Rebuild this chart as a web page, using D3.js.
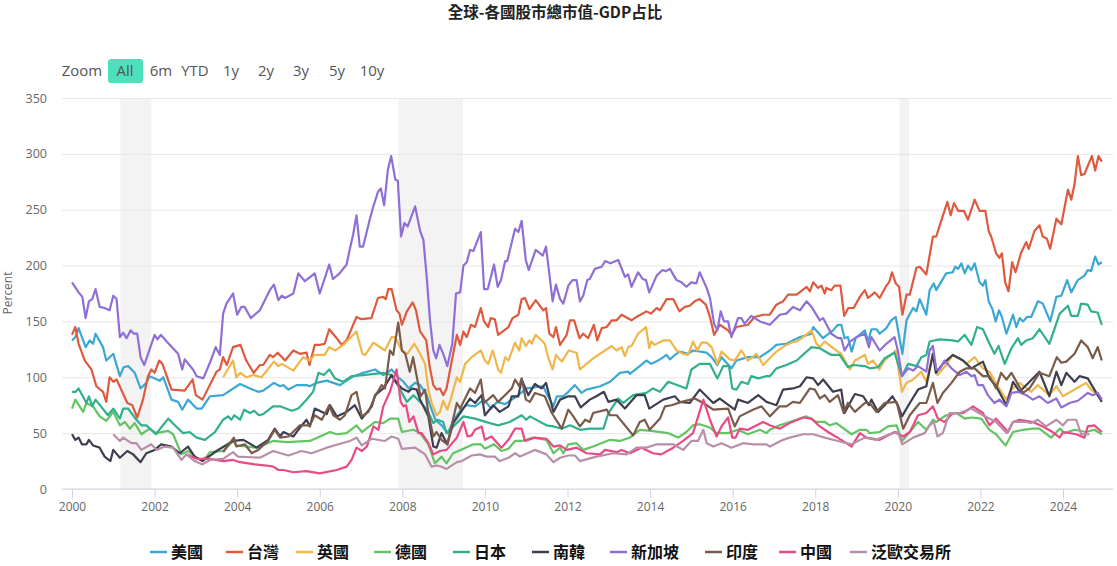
<!DOCTYPE html>
<html lang="zh-Hant">
<head>
    <meta charset="UTF-8"/>
    <title>全球-各國股市總市值-GDP占比</title>
    <script src="https://cdnjs.cloudflare.com/ajax/libs/d3/7.8.5/d3.min.js"></script>
    <style>
        body { margin: 0; background: #fff; }
        text { font-family: "Open Sans", "Noto Sans CJK TC", sans-serif; }
        .axis text { fill: #666; font-size: 12px; }
        .range text { fill: #555; font-size: 15px; text-anchor: middle; }
        .legend text { fill: #111; font-size: 16px; font-weight: bold; font-family: "Noto Sans CJK TC", sans-serif; }
    </style>
</head>
<body>
<div id="chart"></div>
<script>
    // Values: [year, percent]
    const usa = [[2000,133],[2000.08,136],[2000.16,144],[2000.33,127],[2000.43,133],[2000.51,130],[2000.57,139],[2000.75,127],[2000.83,115],[2001,121],[2001.16,101],[2001.25,109],[2001.36,110],[2001.52,104],[2001.66,90],[2001.8,95],[2001.88,101],[2002.13,97],[2002.21,100],[2002.41,80],[2002.57,78],[2002.67,71],[2002.81,80],[2003.02,72],[2003.14,72],[2003.34,83],[2003.66,84],[2004.07,94],[2004.31,90],[2004.51,87],[2004.63,88],[2004.89,95],[2005.04,92],[2005.12,93],[2005.24,89],[2005.44,93],[2005.68,93],[2005.76,92],[2005.92,95],[2006.17,97],[2006.49,93],[2006.77,100],[2007.05,104],[2007.34,107],[2007.54,102],[2007.74,107],[2007.9,100],[2008.03,96],[2008.15,90],[2008.31,95],[2008.43,93],[2008.58,85],[2008.67,75],[2008.8,62],[2008.95,57],[2009.1,50],[2009.25,62],[2009.4,70],[2009.55,75],[2009.76,74],[2009.98,80],[2010.15,72],[2010.3,78],[2010.49,76],[2010.77,83],[2011.01,90],[2011.41,92],[2011.53,83],[2011.66,74],[2011.74,83],[2011.9,83],[2012.02,87],[2012.18,93],[2012.34,86],[2012.46,89],[2012.79,92],[2013.03,96],[2013.27,104],[2013.47,105],[2013.51,103],[2013.75,110],[2013.91,115],[2014.03,112],[2014.24,116],[2014.4,120],[2014.48,116],[2014.6,120],[2014.72,123],[2014.92,121],[2015.04,124],[2015.37,122],[2015.49,118],[2015.63,111],[2015.73,118],[2015.97,108],[2016.09,115],[2016.37,118],[2016.66,118],[2016.9,124],[2017.06,129],[2017.3,130],[2017.63,136],[2017.91,139],[2017.95,145],[2018.19,135],[2018.43,142],[2018.55,147],[2018.63,147],[2018.71,135],[2018.79,136],[2018.88,123],[2018.98,135],[2019.2,142],[2019.28,132],[2019.36,143],[2019.48,143],[2019.56,139],[2019.72,144],[2019.84,151],[2019.95,154],[2020.02,139],[2020.11,121],[2020.21,151],[2020.37,162],[2020.45,159],[2020.53,170],[2020.69,156],[2020.77,178],[2020.87,184],[2020.93,178],[2021.17,193],[2021.33,194],[2021.39,199],[2021.46,197],[2021.54,202],[2021.62,193],[2021.7,200],[2021.78,196],[2021.86,202],[2021.98,185],[2022.06,182],[2022.12,187],[2022.2,168],[2022.29,161],[2022.37,150],[2022.45,160],[2022.52,154],[2022.63,139],[2022.79,156],[2022.87,145],[2022.95,153],[2023.03,150],[2023.13,154],[2023.23,154],[2023.39,168],[2023.51,166],[2023.69,150],[2023.84,172],[2023.96,173],[2024.1,187],[2024.2,176],[2024.36,187],[2024.52,191],[2024.6,196],[2024.68,195],[2024.78,208],[2024.86,201],[2024.94,203]];
    const taiwan = [[2000,138],[2000.08,145],[2000.16,130],[2000.31,115],[2000.47,107],[2000.59,92],[2000.75,87],[2000.83,78],[2000.91,100],[2001,96],[2001.08,98],[2001.34,77],[2001.46,75],[2001.58,64],[2001.72,80],[2001.84,101],[2001.92,107],[2002,104],[2002.11,115],[2002.19,112],[2002.41,89],[2002.73,88],[2002.92,98],[2003,84],[2003.16,80],[2003.5,105],[2003.58,107],[2003.66,118],[2003.75,111],[2003.9,127],[2004.08,129],[2004.22,115],[2004.4,104],[2004.55,111],[2004.63,111],[2004.79,120],[2004.87,118],[2004.98,122],[2005.16,115],[2005.36,124],[2005.52,121],[2005.68,122],[2005.75,111],[2005.88,129],[2006,129],[2006.12,130],[2006.23,143],[2006.41,135],[2006.53,129],[2006.65,133],[2006.89,154],[2007.01,152],[2007.25,153],[2007.41,171],[2007.54,172],[2007.6,170],[2007.66,179],[2007.74,179],[2007.86,160],[2007.93,157],[2007.99,147],[2008.11,159],[2008.25,167],[2008.33,160],[2008.43,141],[2008.58,133],[2008.66,110],[2008.75,93],[2008.83,89],[2008.91,90],[2008.99,84],[2009.07,90],[2009.2,115],[2009.32,138],[2009.4,129],[2009.48,141],[2009.56,136],[2009.66,147],[2009.76,145],[2009.9,162],[2009.98,150],[2010.08,145],[2010.14,153],[2010.24,152],[2010.32,138],[2010.57,145],[2010.67,153],[2010.81,156],[2010.89,170],[2010.97,171],[2011.08,161],[2011.23,169],[2011.41,160],[2011.48,162],[2011.56,139],[2011.66,136],[2011.72,145],[2011.82,129],[2011.98,138],[2012.06,151],[2012.16,151],[2012.29,135],[2012.38,139],[2012.5,135],[2012.64,147],[2012.72,133],[2012.83,144],[2012.95,145],[2013.07,151],[2013.19,151],[2013.31,156],[2013.55,151],[2013.67,154],[2013.91,159],[2014.02,157],[2014.16,162],[2014.24,160],[2014.4,170],[2014.56,170],[2014.71,159],[2014.84,163],[2014.96,164],[2015.08,168],[2015.2,170],[2015.35,165],[2015.45,154],[2015.55,138],[2015.69,147],[2015.89,142],[2015.97,138],[2016.09,145],[2016.37,147],[2016.53,154],[2016.74,156],[2016.9,156],[2017.06,165],[2017.22,168],[2017.34,174],[2017.55,174],[2017.79,181],[2017.87,177],[2017.95,185],[2018.07,180],[2018.15,182],[2018.23,175],[2018.27,180],[2018.39,178],[2018.47,182],[2018.61,182],[2018.7,155],[2018.8,162],[2018.93,162],[2019.08,172],[2019.2,178],[2019.28,171],[2019.44,176],[2019.56,171],[2019.72,182],[2019.79,185],[2019.86,194],[2019.95,184],[2020.03,181],[2020.11,156],[2020.21,174],[2020.29,174],[2020.45,198],[2020.53,199],[2020.69,192],[2020.85,226],[2020.93,226],[2021.05,240],[2021.2,257],[2021.28,245],[2021.36,256],[2021.46,249],[2021.6,249],[2021.7,241],[2021.86,259],[2021.98,249],[2022.12,249],[2022.2,231],[2022.26,226],[2022.38,211],[2022.46,207],[2022.52,211],[2022.6,185],[2022.68,177],[2022.77,203],[2022.85,194],[2022.99,212],[2023.11,221],[2023.17,215],[2023.31,231],[2023.43,236],[2023.51,226],[2023.61,224],[2023.69,215],[2023.84,242],[2023.96,237],[2024.12,268],[2024.2,259],[2024.28,273],[2024.36,298],[2024.44,281],[2024.52,282],[2024.7,298],[2024.78,285],[2024.86,298],[2024.94,293]];
    const uk = [[2003.66,100],[2003.9,115],[2003.98,100],[2004.08,104],[2004.22,100],[2004.39,102],[2004.59,100],[2004.89,114],[2005,110],[2005.08,112],[2005.36,106],[2005.6,118],[2005.75,115],[2005.88,120],[2006.12,120],[2006.23,127],[2006.37,124],[2006.57,129],[2006.89,141],[2007.03,121],[2007.1,120],[2007.3,131],[2007.58,124],[2007.74,136],[2007.82,136],[2007.99,124],[2008.12,121],[2008.29,130],[2008.43,121],[2008.55,112],[2008.63,89],[2008.71,77],[2008.83,66],[2008.91,69],[2008.99,79],[2009.09,71],[2009.17,80],[2009.32,100],[2009.4,96],[2009.52,112],[2009.68,118],[2009.9,124],[2010,115],[2010.08,112],[2010.19,124],[2010.32,107],[2010.39,104],[2010.49,118],[2010.57,115],[2010.73,131],[2010.83,124],[2010.89,135],[2010.99,128],[2011.08,133],[2011.13,130],[2011.23,138],[2011.45,130],[2011.53,118],[2011.64,107],[2011.72,120],[2011.86,114],[2012.03,124],[2012.22,122],[2012.3,107],[2012.62,117],[2013.07,128],[2013.19,124],[2013.31,127],[2013.39,119],[2013.47,127],[2013.55,128],[2013.71,139],[2013.9,145],[2013.98,126],[2014.03,132],[2014.11,129],[2014.32,133],[2014.48,133],[2014.64,124],[2014.8,121],[2014.92,120],[2015.04,132],[2015.14,124],[2015.25,131],[2015.37,131],[2015.49,127],[2015.63,112],[2015.73,123],[2015.93,116],[2016.05,115],[2016.21,124],[2016.37,115],[2016.58,121],[2016.74,111],[2016.9,117],[2017.06,123],[2017.3,129],[2017.42,131],[2017.55,132],[2017.71,136],[2017.91,142],[2018.03,130],[2018.11,127],[2018.23,132],[2018.51,124],[2018.63,121],[2018.84,107],[2018.96,115],[2019.2,120],[2019.28,112],[2019.4,115],[2019.55,107],[2019.68,115],[2019.95,124],[2020.1,87],[2020.21,95],[2020.37,98],[2020.57,105],[2020.69,96],[2020.85,121],[2020.96,102],[2021.17,111],[2021.33,120],[2021.5,117],[2021.66,112],[2021.86,118],[2022.06,108],[2022.22,105],[2022.42,92],[2022.63,80],[2022.75,89],[2022.95,95],[2023.23,87],[2023.39,93],[2023.67,84],[2023.84,92],[2024,83],[2024.32,90],[2024.56,95],[2024.68,89],[2024.84,84],[2024.94,81]];
    const germany = [[2000,72],[2000.08,80],[2000.27,69],[2000.35,77],[2000.51,74],[2000.67,65],[2000.83,61],[2001,69],[2001.16,57],[2001.28,60],[2001.4,54],[2001.52,59],[2001.68,49],[2001.88,54],[2002.04,50],[2002.33,52],[2002.45,49],[2002.65,31],[2002.81,34],[2003.02,28],[2003.14,26],[2003.26,29],[2003.34,33],[2003.66,34],[2003.9,43],[2003.98,39],[2004.47,37],[2004.87,43],[2005.2,42],[2005.76,43],[2006.25,51],[2006.41,49],[2006.65,50],[2006.89,57],[2007.02,51],[2007.34,60],[2007.54,59],[2007.7,63],[2007.9,63],[2007.99,51],[2008.27,53],[2008.43,50],[2008.63,40],[2008.79,23],[2008.95,29],[2009.07,23],[2009.23,32],[2009.48,36],[2009.72,40],[2009.9,40],[2010,36],[2010.22,40],[2010.4,34],[2010.57,36],[2010.73,43],[2010.89,43],[2011.17,46],[2011.49,44],[2011.66,32],[2011.82,37],[2011.9,32],[2012.02,40],[2012.22,41],[2012.38,35],[2012.62,38],[2013.03,44],[2013.27,43],[2013.51,46],[2013.75,53],[2014.03,52],[2014.44,50],[2014.68,46],[2014.88,51],[2015.04,57],[2015.2,58],[2015.45,55],[2015.61,50],[2015.89,50],[2016.13,53],[2016.37,49],[2016.66,53],[2016.82,50],[2016.9,53],[2017.14,57],[2017.38,60],[2017.79,65],[2018.03,60],[2018.23,60],[2018.35,57],[2018.51,59],[2018.88,49],[2019.08,53],[2019.24,53],[2019.32,50],[2019.56,51],[2019.76,56],[2019.97,57],[2020.1,43],[2020.29,51],[2020.49,60],[2020.69,53],[2020.85,62],[2020.93,60],[2021.17,66],[2021.42,68],[2021.62,63],[2021.78,64],[2022.02,63],[2022.22,53],[2022.38,49],[2022.61,39],[2022.79,51],[2023.03,53],[2023.27,54],[2023.43,54],[2023.71,46],[2023.92,54],[2024.04,50],[2024.28,53],[2024.56,51],[2024.76,53],[2024.94,49]];
    const japan = [[2000,87],[2000.09,87],[2000.16,90],[2000.35,77],[2000.41,83],[2000.49,74],[2000.57,80],[2000.87,66],[2001,72],[2001.16,63],[2001.24,72],[2001.36,72],[2001.56,62],[2001.68,57],[2001.8,57],[2002.03,49],[2002.33,63],[2002.49,57],[2002.69,50],[2002.85,51],[2003.02,46],[2003.22,44],[2003.46,51],[2003.66,62],[2003.78,65],[2003.86,62],[2003.93,66],[2004.07,62],[2004.17,71],[2004.31,68],[2004.41,70],[2004.53,66],[2004.63,67],[2004.87,74],[2005.04,74],[2005.32,70],[2005.48,72],[2005.68,80],[2005.84,87],[2005.97,104],[2006.1,102],[2006.23,107],[2006.37,99],[2006.57,96],[2006.77,101],[2007.05,102],[2007.54,104],[2007.74,102],[2007.86,95],[2007.99,86],[2008.11,78],[2008.27,84],[2008.43,78],[2008.6,71],[2008.75,59],[2008.85,62],[2008.99,60],[2009.07,50],[2009.48,65],[2009.76,63],[2010.12,59],[2010.32,57],[2010.6,60],[2010.89,66],[2011,62],[2011.09,65],[2011.49,57],[2011.66,56],[2011.86,54],[2012.06,57],[2012.3,53],[2012.54,54],[2012.87,54],[2012.99,68],[2013.23,81],[2013.35,77],[2013.59,84],[2013.91,86],[2014.07,90],[2014.24,87],[2014.44,96],[2014.88,90],[2015,107],[2015.2,112],[2015.45,112],[2015.63,99],[2015.77,110],[2015.91,110],[2015.99,90],[2016.09,89],[2016.21,96],[2016.37,94],[2016.45,101],[2016.62,99],[2016.82,101],[2016.9,101],[2017.06,108],[2017.3,111],[2017.55,115],[2017.91,127],[2018.11,126],[2018.39,120],[2018.59,120],[2018.79,109],[2018.92,111],[2019.2,110],[2019.32,108],[2019.52,109],[2019.68,117],[2019.92,122],[2020.1,101],[2020.25,112],[2020.45,110],[2020.57,118],[2020.69,120],[2020.77,132],[2021.01,134],[2021.33,133],[2021.46,132],[2021.62,138],[2021.78,129],[2021.92,145],[2022.06,143],[2022.22,130],[2022.34,121],[2022.44,128],[2022.59,112],[2022.75,126],[2022.91,135],[2022.99,129],[2023.11,133],[2023.27,135],[2023.43,143],[2023.67,130],[2023.92,157],[2024.12,164],[2024.2,155],[2024.36,155],[2024.44,166],[2024.6,165],[2024.68,159],[2024.84,158],[2024.94,147]];
    const korea = [[2000,49],[2000.08,44],[2000.16,46],[2000.24,40],[2000.35,40],[2000.41,44],[2000.51,39],[2000.67,37],[2000.79,29],[2000.93,25],[2001,35],[2001.16,28],[2001.34,34],[2001.48,31],[2001.66,24],[2001.8,32],[2002,35],[2002.16,40],[2002.41,38],[2002.61,32],[2002.81,38],[2002.97,29],[2003.16,25],[2003.5,34],[2003.9,43],[2004.15,44],[2004.47,37],[2004.75,44],[2004.91,54],[2005.04,47],[2005.12,51],[2005.36,47],[2005.48,53],[2005.68,62],[2005.76,56],[2005.88,72],[2006.17,67],[2006.25,75],[2006.41,65],[2006.65,69],[2006.85,75],[2007.02,63],[2007.26,74],[2007.34,84],[2007.54,90],[2007.74,102],[2007.86,95],[2007.99,90],[2008.15,87],[2008.23,90],[2008.35,89],[2008.43,80],[2008.63,65],[2008.75,38],[2008.83,37],[2008.95,50],[2009.09,40],[2009.23,59],[2009.4,68],[2009.64,81],[2009.76,77],[2009.92,84],[2010,66],[2010.2,75],[2010.36,69],[2010.57,74],[2010.65,83],[2010.81,83],[2010.89,98],[2011.05,84],[2011.21,94],[2011.37,90],[2011.48,95],[2011.66,69],[2011.82,80],[2012.02,83],[2012.18,83],[2012.32,73],[2012.54,80],[2012.7,83],[2012.88,87],[2012.99,78],[2013.19,80],[2013.39,72],[2013.67,84],[2013.87,84],[2013.98,72],[2014.32,80],[2014.6,83],[2014.72,78],[2014.96,77],[2015.2,89],[2015.53,77],[2015.69,81],[2016.05,71],[2016.13,80],[2016.37,77],[2016.62,84],[2016.82,78],[2016.9,77],[2017.06,75],[2017.22,89],[2017.46,90],[2017.63,92],[2017.79,100],[2017.95,99],[2018.07,93],[2018.19,98],[2018.43,87],[2018.63,89],[2018.71,68],[2018.84,77],[2018.96,85],[2019.16,83],[2019.3,75],[2019.36,80],[2019.52,69],[2019.68,75],[2019.87,83],[2020,75],[2020.1,65],[2020.29,77],[2020.49,89],[2020.69,92],[2020.85,121],[2020.92,104],[2021.09,112],[2021.33,120],[2021.58,115],[2021.78,108],[2022.06,114],[2022.22,99],[2022.38,92],[2022.63,75],[2022.79,96],[2022.95,87],[2023.19,96],[2023.43,105],[2023.67,83],[2023.84,105],[2023.96,93],[2024.08,104],[2024.28,96],[2024.4,101],[2024.6,99],[2024.76,89],[2024.94,78]];
    const singapore = [[2000,185],[2000.16,176],[2000.25,172],[2000.33,153],[2000.41,168],[2000.49,170],[2000.57,179],[2000.67,163],[2000.79,162],[2000.91,160],[2001,173],[2001.08,170],[2001.16,136],[2001.24,140],[2001.32,135],[2001.42,142],[2001.5,139],[2001.58,139],[2001.66,118],[2001.75,111],[2001.88,125],[2002,138],[2002.07,134],[2002.15,138],[2002.37,129],[2002.57,121],[2002.67,107],[2002.73,116],[2002.93,107],[2003.02,101],[2003.18,99],[2003.34,113],[2003.48,127],[2003.58,120],[2003.66,157],[2003.74,166],[2003.9,175],[2004,156],[2004.1,163],[2004.18,163],[2004.33,153],[2004.55,160],[2004.67,169],[2004.79,178],[2004.89,183],[2005,169],[2005.08,173],[2005.16,171],[2005.36,175],[2005.48,193],[2005.64,186],[2005.88,193],[2006,175],[2006.23,201],[2006.32,188],[2006.48,193],[2006.65,201],[2006.73,215],[2006.81,228],[2006.89,245],[2006.97,217],[2007.05,217],[2007.21,241],[2007.29,252],[2007.41,266],[2007.48,269],[2007.56,254],[2007.65,286],[2007.73,298],[2007.83,277],[2007.89,276],[2007.97,226],[2008.05,238],[2008.13,235],[2008.31,253],[2008.43,231],[2008.51,223],[2008.59,190],[2008.67,151],[2008.75,124],[2008.82,117],[2008.9,129],[2008.99,121],[2009.09,110],[2009.21,130],[2009.3,175],[2009.4,176],[2009.48,200],[2009.56,203],[2009.64,214],[2009.72,213],[2009.9,230],[2009.98,179],[2010.07,179],[2010.22,201],[2010.31,181],[2010.39,187],[2010.49,204],[2010.54,204],[2010.73,233],[2010.81,230],[2010.89,240],[2010.99,205],[2011.06,196],[2011.23,214],[2011.4,209],[2011.48,217],[2011.64,168],[2011.72,183],[2011.82,170],[2011.9,166],[2012.02,182],[2012.12,187],[2012.22,187],[2012.3,168],[2012.38,173],[2012.48,187],[2012.54,188],[2012.66,197],[2012.83,199],[2012.91,204],[2013.04,202],[2013.23,205],[2013.39,190],[2013.47,192],[2013.55,181],[2013.71,194],[2013.82,188],[2013.9,187],[2013.98,176],[2014.16,191],[2014.3,196],[2014.38,195],[2014.48,197],[2014.64,187],[2014.76,185],[2014.88,181],[2015,185],[2015.12,184],[2015.2,194],[2015.37,180],[2015.45,171],[2015.55,148],[2015.63,142],[2015.71,159],[2015.79,150],[2015.89,150],[2015.97,136],[2016.13,153],[2016.21,153],[2016.29,148],[2016.45,155],[2016.66,150],[2016.9,147],[2017.14,156],[2017.3,157],[2017.46,163],[2017.63,160],[2017.79,168],[2017.91,163],[2018.11,151],[2018.19,153],[2018.39,139],[2018.55,135],[2018.63,135],[2018.71,124],[2018.84,132],[2019,136],[2019.2,139],[2019.3,127],[2019.36,136],[2019.56,124],[2019.72,130],[2019.92,136],[2020,124],[2020.1,101],[2020.25,108],[2020.37,106],[2020.49,110],[2020.69,105],[2020.77,124],[2020.85,128],[2020.93,107],[2021.01,107],[2021.13,115],[2021.3,108],[2021.5,102],[2021.66,105],[2021.78,101],[2021.86,102],[2021.94,93],[2022.06,93],[2022.18,84],[2022.34,77],[2022.46,80],[2022.63,74],[2022.75,86],[2022.91,87],[2023.11,84],[2023.27,80],[2023.43,83],[2023.63,77],[2023.84,81],[2023.96,73],[2024.16,77],[2024.36,79],[2024.6,86],[2024.72,84],[2024.84,86],[2024.94,80]];
    const india = [[2003.66,33],[2003.92,46],[2003.98,38],[2004.19,40],[2004.35,32],[2004.51,35],[2004.75,43],[2004.91,53],[2005.04,46],[2005.24,47],[2005.52,57],[2005.68,57],[2005.76,57],[2005.88,66],[2006.05,62],[2006.23,75],[2006.33,66],[2006.49,62],[2006.61,66],[2006.77,84],[2006.89,87],[2007.02,65],[2007.18,69],[2007.34,83],[2007.5,93],[2007.58,90],[2007.7,124],[2007.78,120],[2007.9,149],[2007.99,124],[2008.07,121],[2008.18,105],[2008.26,118],[2008.44,83],[2008.55,89],[2008.63,68],[2008.75,47],[2008.83,51],[2008.95,44],[2009.09,40],[2009.32,77],[2009.4,72],[2009.64,90],[2009.76,86],[2009.9,98],[2009.98,77],[2010.2,84],[2010.32,78],[2010.65,90],[2010.73,98],[2010.83,92],[2010.89,99],[2010.99,80],[2011.09,78],[2011.21,86],[2011.45,83],[2011.62,68],[2011.86,54],[2012.02,71],[2012.14,65],[2012.3,56],[2012.43,62],[2012.54,60],[2012.62,68],[2012.95,71],[2013.03,66],[2013.19,66],[2013.59,48],[2013.75,60],[2013.87,62],[2013.99,53],[2014.24,63],[2014.36,74],[2014.52,75],[2014.76,78],[2015.08,81],[2015.29,77],[2015.53,71],[2015.89,72],[2016.05,56],[2016.17,65],[2016.49,71],[2016.7,74],[2016.9,65],[2017.14,74],[2017.3,74],[2017.46,78],[2017.63,77],[2017.87,90],[2017.99,89],[2018.11,81],[2018.23,84],[2018.35,78],[2018.55,84],[2018.69,68],[2018.79,77],[2018.96,69],[2019.2,77],[2019.32,77],[2019.48,69],[2019.68,77],[2019.97,78],[2020.13,54],[2020.29,66],[2020.53,77],[2020.69,77],[2020.85,95],[2020.96,77],[2021.09,86],[2021.3,95],[2021.5,105],[2021.66,108],[2021.86,108],[2022.06,101],[2022.22,101],[2022.38,90],[2022.5,104],[2022.63,98],[2022.75,104],[2023.03,86],[2023.19,90],[2023.43,104],[2023.67,101],[2023.85,118],[2023.96,113],[2024.08,114],[2024.28,121],[2024.44,133],[2024.6,127],[2024.72,117],[2024.84,127],[2024.94,115]];
    const china = [[2002.77,31],[2003.02,27],[2003.34,27],[2003.66,25],[2003.9,26],[2004.07,24],[2004.43,22],[2004.71,21],[2004.87,20],[2005,17],[2005.12,17],[2005.36,15],[2005.68,16],[2006,14],[2006.41,17],[2006.65,20],[2006.77,26],[2006.89,37],[2007.02,34],[2007.14,38],[2007.3,56],[2007.42,53],[2007.54,74],[2007.7,87],[2007.86,107],[2007.96,78],[2008.03,74],[2008.09,75],[2008.17,60],[2008.27,65],[2008.39,50],[2008.47,50],[2008.63,41],[2008.75,31],[2008.91,34],[2009.07,35],[2009.32,46],[2009.48,60],[2009.58,47],[2009.68,48],[2009.76,53],[2009.92,56],[2010,44],[2010.16,47],[2010.4,37],[2010.57,44],[2010.73,54],[2010.89,54],[2010.97,43],[2011.21,46],[2011.49,45],[2011.66,38],[2011.82,39],[2011.98,35],[2012.22,37],[2012.46,32],[2012.79,31],[2012.91,35],[2013.19,33],[2013.31,35],[2013.51,32],[2013.79,37],[2014.07,32],[2014.27,31],[2014.56,37],[2014.8,43],[2015.04,50],[2015.29,80],[2015.45,62],[2015.61,47],[2015.73,56],[2015.89,64],[2015.99,46],[2016.07,46],[2016.17,54],[2016.37,53],[2016.74,60],[2016.9,57],[2017.14,54],[2017.38,59],[2017.71,64],[2017.91,63],[2018.11,56],[2018.31,51],[2018.63,44],[2018.88,38],[2019.08,50],[2019.24,46],[2019.56,44],[2019.92,51],[2020.13,47],[2020.29,51],[2020.49,66],[2020.69,68],[2020.85,74],[2020.97,63],[2021.13,60],[2021.33,68],[2021.58,68],[2021.82,74],[2022.06,68],[2022.22,57],[2022.38,63],[2022.67,51],[2022.79,60],[2022.95,62],[2023.27,60],[2023.51,56],[2023.75,51],[2023.92,46],[2024,51],[2024.32,49],[2024.52,46],[2024.6,56],[2024.76,57],[2024.94,51]];
    const panEurope = [[2001,49],[2001.16,43],[2001.24,46],[2001.44,41],[2001.56,41],[2001.68,35],[2001.92,40],[2002.05,35],[2002.25,38],[2002.45,37],[2002.65,26],[2002.77,31],[2002.97,25],[2003.16,22],[2003.34,26],[2003.66,27],[2003.9,33],[2004.02,29],[2004.55,28],[2004.87,34],[2005.24,30],[2005.56,34],[2005.8,32],[2006.17,37],[2006.45,40],[2006.73,43],[2006.89,46],[2007.02,39],[2007.26,45],[2007.58,43],[2007.74,47],[2007.9,45],[2007.99,36],[2008.31,37],[2008.43,34],[2008.55,31],[2008.71,20],[2008.83,21],[2008.95,20],[2009.07,18],[2009.32,24],[2009.44,25],[2009.68,30],[2009.88,31],[2010.04,29],[2010.24,29],[2010.36,25],[2010.57,28],[2010.73,32],[2010.85,29],[2011.21,35],[2011.49,31],[2011.66,24],[2011.82,28],[2012.02,30],[2012.18,30],[2012.3,25],[2012.7,29],[2013.11,32],[2013.43,31],[2013.67,37],[2013.91,37],[2014.16,40],[2014.56,40],[2014.8,35],[2015,43],[2015.16,43],[2015.29,53],[2015.37,41],[2015.53,38],[2015.73,41],[2015.97,37],[2016.25,41],[2016.49,40],[2016.82,40],[2016.9,38],[2017.22,44],[2017.38,46],[2017.71,49],[2017.95,49],[2018.23,46],[2018.55,43],[2018.88,40],[2019.2,46],[2019.48,44],[2019.8,49],[2020,51],[2020.11,40],[2020.37,46],[2020.65,50],[2020.77,57],[2020.87,60],[2020.96,47],[2021.09,50],[2021.25,68],[2021.5,68],[2021.78,72],[2022.06,66],[2022.38,60],[2022.64,50],[2022.79,60],[2023.11,60],[2023.23,59],[2023.39,62],[2023.59,56],[2023.84,62],[2024,57],[2024.12,62],[2024.32,62],[2024.44,49],[2024.64,49]];

    const seriesNames = ["美國", "台灣", "英國", "德國", "日本", "南韓", "新加坡", "印度", "中國", "泛歐交易所"];
    const seriesValues = [usa, taiwan, uk, germany, japan, korea, singapore, india, china, panEurope];
    const seriesColors = ["#3ba7d3", "#de5a3f", "#f0b64a", "#62c462", "#30b08c", "#3d3f50", "#8f6fd6", "#7a5a4a", "#e94a85", "#b88fa8"];

    const recessions = [[2001.17, 2001.92], [2007.9, 2009.47], [2020.04, 2020.27]];
    const yearTicks = d3.range(2000, 2025, 2);
    const percentTicks = [0, 50, 100, 150, 200, 250, 300, 350];
    const rangeLabels = ["All", "6m", "YTD", "1y", "2y", "3y", "5y", "10y"];
    const rangeCenters = [125, 161, 195, 231, 266, 301, 337, 372];
    const legendStarts = [150, 226, 296, 374, 453, 532, 610, 705, 779, 850];

    const width = 1117;
    const height = 566;
    const plot = {left: 62, right: 1113, top: 98, bottom: 489};

    const svg = d3.select("#chart").append("svg")
        .attr("width", width)
        .attr("height", height)
        .style("display", "block");

    const x = d3.scaleLinear().domain([2000, 2024]).range([72, 1063]);
    const y = d3.scaleLinear().domain([0, 350]).range([plot.bottom, plot.top]);

    // Title
    svg.append("text")
        .attr("x", 555).attr("y", 18)
        .attr("text-anchor", "middle")
        .attr("fill", "#222")
        .style("font-family", '"Noto Sans CJK TC", sans-serif')
        .style("font-size", "15.5px")
        .style("font-weight", "bold")
        .text("全球-各國股市總市值-GDP占比");

    // Range selector
    const range = svg.append("g").attr("class", "range");
    range.append("rect")
        .attr("x", 108).attr("y", 59).attr("width", 35).attr("height", 24)
        .attr("rx", 3).attr("fill", "#4de0bc");
    range.append("text").attr("x", 82).attr("y", 76).text("Zoom");
    range.selectAll("text.btn")
        .data(rangeLabels)
        .enter().append("text")
        .attr("class", "btn")
        .attr("x", (d, i) => rangeCenters[i])
        .attr("y", 76)
        .text(d => d);

    // Recession bands
    svg.append("g").selectAll("rect")
        .data(recessions)
        .enter().append("rect")
        .attr("x", d => x(d[0]))
        .attr("width", d => x(d[1]) - x(d[0]))
        .attr("y", plot.top)
        .attr("height", plot.bottom - plot.top)
        .attr("fill", "#f3f3f3");

    // Y axis with grid lines
    const yAxis = svg.append("g")
        .attr("class", "axis")
        .attr("transform", `translate(${plot.left},0)`)
        .call(d3.axisLeft(y).tickValues(percentTicks).tickSize(plot.left - plot.right).tickPadding(14));
    yAxis.select(".domain").remove();
    yAxis.selectAll("line").attr("stroke", "#e6e6e6");
    yAxis.selectAll("text").attr("x", -15).style("font-size", "12.5px");

    // X axis
    const xAxis = svg.append("g")
        .attr("class", "axis")
        .attr("transform", `translate(0,${plot.bottom})`)
        .call(d3.axisBottom(x).tickValues(yearTicks).tickFormat(d3.format("d")).tickSize(9).tickPadding(4));
    xAxis.select(".domain").attr("d", `M${plot.left},0H${plot.right}`).attr("stroke", "#d0d5de");
    xAxis.selectAll("line").attr("stroke", "#d0d5de");

    svg.append("text")
        .attr("transform", "translate(12,293) rotate(-90)")
        .attr("text-anchor", "middle")
        .attr("fill", "#666")
        .style("font-size", "12px")
        .text("Percent");

    // Lines
    const line = d3.line().x(d => x(d[0])).y(d => y(d[1]));
    svg.append("g").selectAll("path")
        .data(seriesValues)
        .enter().append("path")
        .attr("d", line)
        .attr("fill", "none")
        .attr("stroke", (d, i) => seriesColors[i])
        .attr("stroke-width", 2.2)
        .attr("stroke-linejoin", "round");

    // Legend
    const legend = svg.append("g").attr("class", "legend")
        .selectAll("g")
        .data(seriesNames)
        .enter().append("g")
        .attr("transform", (d, i) => `translate(${legendStarts[i]},553)`);
    legend.append("line")
        .attr("x1", 0).attr("x2", 17).attr("y1", -1).attr("y2", -1)
        .attr("stroke", (d, i) => seriesColors[i])
        .attr("stroke-width", 2.5);
    legend.append("text")
        .attr("x", 21).attr("y", 5)
        .text(d => d);
</script>
</body>
</html>
